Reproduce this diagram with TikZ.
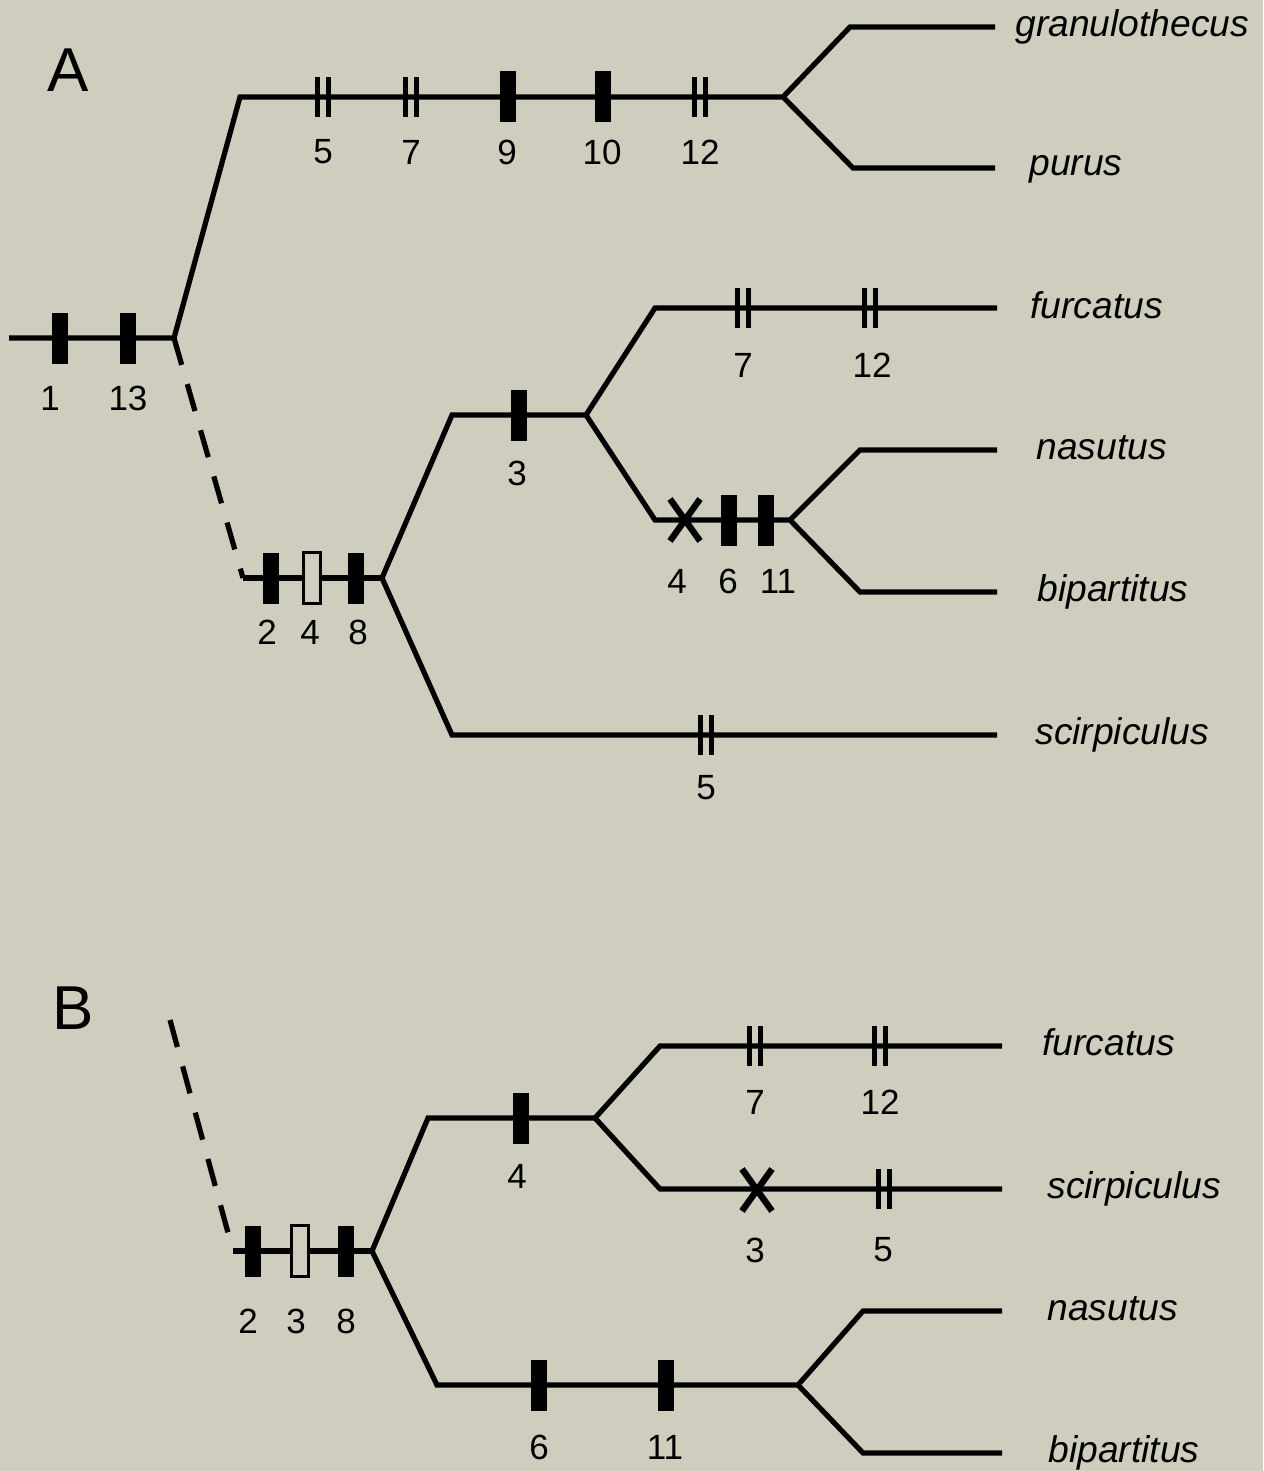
\documentclass[tikz,border=0pt]{standalone}
\usepackage{fontspec}
\setmainfont{Liberation Sans}
\definecolor{bg}{RGB}{206,205,190}
\begin{document}
\begin{tikzpicture}[x=0.5pt,y=-0.5pt,
  branch/.style={line width=2.6pt,line join=miter,line cap=butt},
  dashbranch/.style={branch,dash pattern=on 14pt off 10pt},
  bar/.style={rectangle,fill=black,inner sep=0pt,minimum width=8pt,minimum height=25.5pt},
  openbar/.style={rectangle,draw=black,fill=bg,line width=1.5pt,inner sep=0pt,minimum width=8.25pt,minimum height=25.25pt},
  num/.style={inner sep=0pt,font=\fontsize{17.5}{20}\selectfont},
  taxon/.style={inner sep=0pt,anchor=base west,font=\fontsize{18.6}{22}\selectfont\itshape},
  panel/.style={inner sep=0pt,font=\fontsize{31}{36}\selectfont},
  dbar/.pic={\draw[line width=2.6pt] (-5.5,-20)--(-5.5,20) (5.5,-20)--(5.5,20);},
  xmark/.pic={\draw[line width=3.2pt,line cap=butt] (-15,-21)--(15,21) (-15,21)--(15,-21);}
]
\fill[bg] (0,0) rectangle (1263,1471);
\useasboundingbox (0,0) rectangle (1263,1471);

% ---------------- Panel A ----------------
\node[panel] (labA) at (68,70) {A};
\coordinate (r0) at (9,338);
\coordinate (rA) at (174,338);
\coordinate (gp) at (240,97);
\coordinate (gpj) at (783,97);
\coordinate (gtop) at (850,27);
\coordinate (gend) at (995,27);
\coordinate (pbot) at (853,168);
\coordinate (pend) at (995,168);
\coordinate (dA) at (243,578);
\coordinate (jA) at (382,578);
\coordinate (u1) at (452,415);
\coordinate (j3) at (586,415);
\coordinate (fu) at (655,308);
\coordinate (fuE) at (997,308);
\coordinate (nb) at (655,520);
\coordinate (jnb) at (790,520);
\coordinate (na) at (860,450);
\coordinate (naE) at (997,450);
\coordinate (bi) at (860,592);
\coordinate (biE) at (997,592);
\coordinate (sc) at (452,735);
\coordinate (scE) at (997,735);

\draw[branch] (r0) -- (rA) -- (gp) -- (gpj);
\draw[branch] (gend) -- (gtop) -- (gpj) -- (pbot) -- (pend);
\draw[dashbranch] (rA) -- (dA);
\draw[branch] (dA) -- (jA);
\draw[branch] (jA) -- (u1) -- (j3);
\draw[branch] (fuE) -- (fu) -- (j3) -- (nb) -- (jnb);
\draw[branch] (naE) -- (na) -- (jnb) -- (bi) -- (biE);
\draw[branch] (jA) -- (sc) -- (scE);

% marks A
\node[bar] (m1) at (60,338) {};
\node[bar] (m13) at (128,338) {};
\pic at (323,97) {dbar};
\pic at (411,97) {dbar};
\node[bar] (m9) at (508,97) {};
\node[bar] (m10) at (603,97) {};
\pic at (700,97) {dbar};
\node[bar] (m2) at (271,578) {};
\node[openbar] (m4) at (312,578) {};
\node[bar] (m8) at (356,578) {};
\node[bar] (m3) at (519,415) {};
\pic at (743,308) {dbar};
\pic at (870,308) {dbar};
\pic at (685,520) {xmark};
\node[bar] (m6) at (729,520) {};
\node[bar] (m11) at (766,520) {};
\pic at (706,735) {dbar};

% numbers A
\node[num] (n1) at (50,398) {1};
\node[num] (n13) at (128,398) {13};
\node[num] (n5) at (323,152) {5};
\node[num] (n7) at (411,152) {7};
\node[num] (n9) at (507,152) {9};
\node[num] (n10) at (602,152) {10};
\node[num] (n12) at (700,152) {12};
\node[num] (n2) at (267,632) {2};
\node[num] (n4) at (310,632) {4};
\node[num] (n8) at (358,632) {8};
\node[num] (n3) at (517,473) {3};
\node[num] (n7b) at (743,365) {7};
\node[num] (n12b) at (872,365) {12};
\node[num] (n4b) at (677,581) {4};
\node[num] (n6) at (728,581) {6};
\node[num] (n11) at (778,581) {11};
\node[num] (n5b) at (706,788) {5};

% taxa A
\node[taxon] (tgr) at (1015,37) {granulothecus};
\node[taxon] (tpu) at (1029,176) {purus};
\node[taxon] (tfu) at (1030,318) {furcatus};
\node[taxon] (tna) at (1036,459) {nasutus};
\node[taxon] (tbi) at (1037,601) {bipartitus};
\node[taxon] (tsc) at (1035,744) {scirpiculus};

% ---------------- Panel B ----------------
\node[panel] (labB) at (73,1008) {B};
\coordinate (dB0) at (170,1020);
\coordinate (dB) at (233,1251);
\coordinate (jB) at (372,1251);
\coordinate (u4) at (428,1118);
\coordinate (j4) at (595,1118);
\coordinate (fuB) at (660,1046);
\coordinate (fuBE) at (1002,1046);
\coordinate (scB) at (660,1189);
\coordinate (scBE) at (1002,1189);
\coordinate (lo) at (437,1385);
\coordinate (jnbB) at (798,1385);
\coordinate (naB) at (863,1311);
\coordinate (naBE) at (1002,1311);
\coordinate (biB) at (863,1453);
\coordinate (biBE) at (1002,1453);

\draw[dashbranch] (dB0) -- (dB);
\draw[branch] (dB) -- (jB);
\draw[branch] (jB) -- (u4) -- (j4);
\draw[branch] (fuBE) -- (fuB) -- (j4) -- (scB) -- (scBE);
\draw[branch] (jB) -- (lo) -- (jnbB);
\draw[branch] (naBE) -- (naB) -- (jnbB) -- (biB) -- (biBE);

% marks B
\node[bar] (b2) at (253,1251) {};
\node[openbar] (b3) at (300,1251) {};
\node[bar] (b8) at (346,1251) {};
\node[bar] (b4) at (521,1118) {};
\pic at (755,1046) {dbar};
\pic at (880,1046) {dbar};
\pic at (757,1190) {xmark};
\pic at (884,1189) {dbar};
\node[bar] (b6) at (539,1385) {};
\node[bar] (b11) at (666,1385) {};

% numbers B
\node[num] (c2) at (248,1321) {2};
\node[num] (c3) at (296,1321) {3};
\node[num] (c8) at (346,1321) {8};
\node[num] (c4) at (517,1176) {4};
\node[num] (c7) at (755,1102) {7};
\node[num] (c12) at (880,1102) {12};
\node[num] (c3b) at (755,1250) {3};
\node[num] (c5) at (883,1250) {5};
\node[num] (c6) at (539,1447) {6};
\node[num] (c11) at (665,1447) {11};

% taxa B
\node[taxon] (ufu) at (1042,1055) {furcatus};
\node[taxon] (usc) at (1047,1198) {scirpiculus};
\node[taxon] (una) at (1047,1320) {nasutus};
\node[taxon] (ubi) at (1048,1462) {bipartitus};
\end{tikzpicture}
\end{document}
